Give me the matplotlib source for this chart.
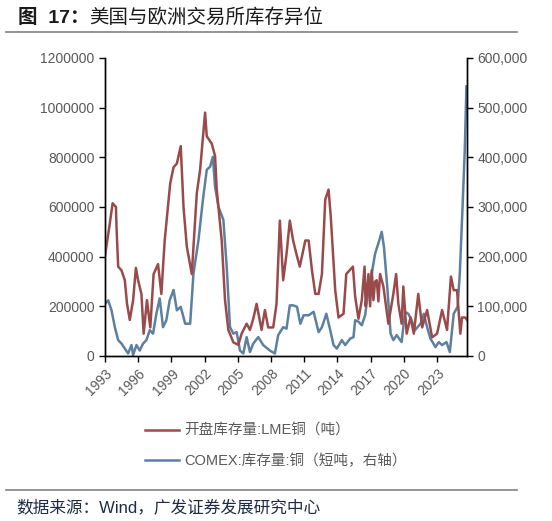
import matplotlib
matplotlib.use("Agg")
import matplotlib.pyplot as plt
from matplotlib.ticker import FuncFormatter

plt.rcParams['font.family'] = ['Liberation Sans', 'Noto Sans CJK SC', 'DejaVu Sans']

# LME copper stocks (tonnes), left axis
lme_t = [1993.0, 1993.4, 1993.7, 1994.0, 1994.05, 1994.2, 1994.5, 1994.8, 1995.0, 1995.25,
         1995.55, 1995.8, 1996.0, 1996.3, 1996.5, 1996.8, 1997.1, 1997.4, 1997.8, 1998.1,
         1998.4, 1998.9, 1999.2, 1999.5, 1999.85, 2000.1, 2000.4, 2000.85, 2001.0, 2001.3,
         2001.6, 2002.05, 2002.2, 2002.65, 2002.95, 2003.1, 2003.55, 2003.85, 2004.15, 2004.6,
         2005.05, 2005.35, 2005.8, 2006.1, 2006.4, 2006.7, 2007.15, 2007.45, 2007.75, 2008.2,
         2008.5, 2008.8, 2009.1, 2009.4, 2009.7, 2010.0, 2010.3, 2010.6, 2011.1, 2011.4,
         2011.7, 2012.0, 2012.3, 2012.6, 2012.9, 2013.2, 2013.4, 2013.8, 2014.1, 2014.55,
         2014.8, 2015.1, 2015.4, 2015.6, 2015.9, 2016.2, 2016.45, 2016.55, 2016.65, 2016.8,
         2016.95, 2017.1, 2017.25, 2017.4, 2017.55, 2017.7, 2017.85, 2018.15, 2018.6, 2019.05,
         2019.3, 2019.5, 2019.8, 2019.95, 2020.25, 2020.6, 2020.9, 2021.3, 2021.65, 2022.1,
         2022.55, 2023.0, 2023.45, 2023.9, 2024.25, 2024.5, 2024.8, 2025.1, 2025.25, 2025.55,
         2025.7]
lme_v = [400000, 520000, 615000, 600000, 520000, 360000, 345000, 305000, 210000, 145000,
         225000, 355000, 305000, 250000, 90000, 225000, 115000, 330000, 370000, 250000,
         465000, 695000, 760000, 775000, 845000, 600000, 440000, 330000, 440000, 655000,
         750000, 980000, 885000, 855000, 805000, 670000, 465000, 225000, 105000, 55000,
         45000, 90000, 130000, 105000, 150000, 210000, 105000, 185000, 115000, 115000,
         210000, 545000, 305000, 410000, 545000, 465000, 410000, 360000, 465000, 465000,
         345000, 250000, 250000, 330000, 630000, 670000, 560000, 265000, 155000, 170000,
         330000, 345000, 360000, 240000, 150000, 225000, 360000, 200000, 250000, 330000,
         200000, 345000, 225000, 300000, 305000, 220000, 330000, 280000, 130000, 250000,
         330000, 210000, 130000, 280000, 90000, 155000, 90000, 250000, 115000, 185000,
         75000, 90000, 185000, 105000, 320000, 265000, 265000, 90000, 155000, 155000,
         145000]

# COMEX copper stocks (short tons), right axis
comex_t = [1993.0, 1993.3, 1993.6, 1993.9, 1994.2, 1994.5, 1994.8, 1995.1, 1995.4, 1995.55,
           1995.85, 1996.15, 1996.45, 1996.75, 1997.05, 1997.35, 1997.65, 1997.95, 1998.25, 1998.55,
           1998.85, 1999.2, 1999.5, 1999.85, 2000.25, 2000.7, 2001.0, 2001.45, 2001.85, 2002.2,
           2002.5, 2002.75, 2002.95, 2003.25, 2003.7, 2004.0, 2004.3, 2004.6, 2004.9, 2005.2,
           2005.5, 2005.8, 2006.1, 2006.4, 2006.85, 2007.3, 2007.9, 2008.35, 2008.65, 2009.1,
           2009.4, 2009.7, 2010.0, 2010.35, 2010.65, 2010.95, 2011.4, 2011.85, 2012.3, 2012.6,
           2013.0, 2013.35, 2013.65, 2013.95, 2014.4, 2014.7, 2015.15, 2015.45, 2015.6, 2015.9,
           2016.2, 2016.5, 2016.8, 2017.1, 2017.4, 2017.7, 2018.0, 2018.2, 2018.5, 2018.8,
           2019.05, 2019.35, 2019.8, 2020.1, 2020.4, 2020.7, 2021.0, 2021.5, 2021.8, 2022.1,
           2022.4, 2022.85, 2023.15, 2023.45, 2023.85, 2024.15, 2024.5, 2024.85, 2025.05, 2025.3,
           2025.5, 2025.65]
comex_v = [105000, 112000, 92000, 58000, 32000, 25000, 15000, 5000, 22000, 2000,
           22000, 11000, 25000, 32000, 52000, 45000, 85000, 116000, 58000, 72000,
           112000, 133000, 92000, 99000, 65000, 65000, 166000, 233000, 314000, 375000,
           381000, 401000, 341000, 301000, 274000, 180000, 58000, 45000, 48000, 11000,
           5000, 38000, 8000, 25000, 38000, 22000, 11000, 5000, 42000, 58000,
           55000, 102000, 102000, 99000, 65000, 82000, 82000, 89000, 48000, 58000,
           85000, 52000, 22000, 15000, 32000, 22000, 35000, 38000, 72000, 69000,
           62000, 82000, 133000, 166000, 206000, 227000, 250000, 220000, 139000, 45000,
           32000, 42000, 28000, 89000, 85000, 72000, 52000, 65000, 85000, 58000,
           35000, 18000, 28000, 22000, 28000, 8000, 85000, 99000, 166000, 301000,
           415000, 543000]

year_ticks = list(range(1993, 2024, 3))
left_ticks = [0, 200000, 400000, 600000, 800000, 1000000, 1200000]
right_ticks = [0, 100000, 200000, 300000, 400000, 500000, 600000]

red = '#9A4A4A'
blue = '#5D80A0'
grey = '#595959'

fig = plt.figure(figsize=(5.52, 5.21), dpi=100)
ax = fig.add_axes([0.190, 0.3167, 0.656, 0.572])
ax2 = ax.twinx()

l1, = ax.plot(lme_t, lme_v, color=red, lw=1.8, label='开盘库存量:LME铜（吨）')
l2, = ax2.plot(comex_t, comex_v, color=blue, lw=1.8, label='COMEX:库存量:铜（短吨，右轴）')
ax.set_zorder(ax2.get_zorder() + 1)
ax.patch.set_visible(False)

ax.set_xlim(1993, 2025.7)
ax.set_ylim(0, 1200000)
ax2.set_ylim(0, 600000)
ax.set_xticks(year_ticks)
ax.set_xticklabels([str(y) for y in year_ticks], rotation=45, ha='right',
                   rotation_mode='anchor')
ax.set_yticks(left_ticks)
ax.yaxis.set_major_formatter(FuncFormatter(lambda v, p: f'{int(v)}'))
ax2.set_yticks(right_ticks)
ax2.yaxis.set_major_formatter(FuncFormatter(lambda v, p: f'{int(v):,}'))

for a in (ax, ax2):
    a.spines['top'].set_visible(False)
    for s in ('left', 'right', 'bottom'):
        a.spines[s].set_color('black')
        a.spines[s].set_linewidth(1.0)
    a.tick_params(direction='out', length=4, width=1, colors='black',
                  labelcolor=grey, labelsize=10)

fig.legend(handles=[l1, l2], loc='center', bbox_to_anchor=(0.5, 0.144),
           frameon=False, fontsize=10.5, labelcolor=grey, handlelength=2.3,
           handletextpad=0.4, labelspacing=1.05)

fig.text(0.033, 0.966, '图  17：', fontsize=14, fontweight='bold',
         color='#1a1a1a', va='center', ha='left')
fig.text(0.162, 0.966, '美国与欧洲交易所库存异位', fontsize=14, fontweight='medium',
         color='#1a1a1a', va='center', ha='left')
fig.add_artist(plt.Line2D([0.01, 0.937], [0.939, 0.939], color='#808080', lw=1.2))
fig.add_artist(plt.Line2D([0.01, 0.937], [0.060, 0.060], color='#808080', lw=1.2))
fig.text(0.03, 0.027, '数据来源：Wind，广发证券发展研究中心', fontsize=12,
         color='#1f2a44', va='center', ha='left')

fig.savefig('out.png', dpi=100)
